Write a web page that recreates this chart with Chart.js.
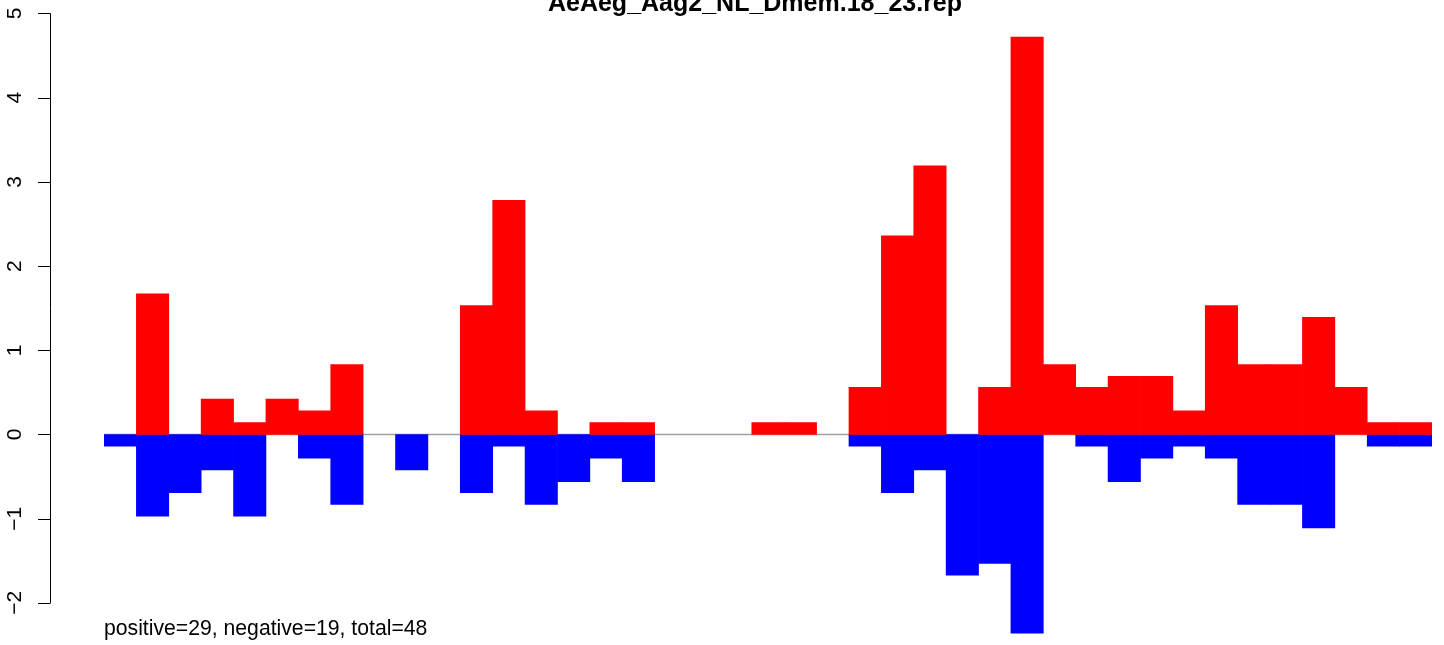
<!DOCTYPE html>
<html>
<head>
  <title>AeAeg_Aag2_NL_Dmem.18_23.rep</title>
  <script src="https://cdn.jsdelivr.net/npm/chart.js"></script>
  <style>
    html, body {
      margin: 0;
      padding: 0;
      background: #fff;
    }

    .wrap {
      width: 1444px;
      height: 645px;
    }
  </style>
</head>
<body>
  <div class="wrap"><canvas id="repChart"></canvas></div>

  <script>
    // values
    const chartTitle = 'AeAeg_Aag2_NL_Dmem.18_23.rep';
    const footerText = 'positive=29, negative=19, total=48';

    const positions = [];
    for (let i = 1; i <= 41; i++) positions.push(String(i));

    const positive = [0, 1.67, 0, 0.42, 0.14, 0.42, 0.28, 0.83, 0, 0,
                      0, 1.53, 2.78, 0.28, 0, 0.14, 0.14, 0, 0, 0,
                      0.14, 0.14, 0, 0.56, 2.36, 3.19, 0, 0.56, 4.72, 0.83,
                      0.56, 0.69, 0.69, 0.28, 1.53, 0.83, 0.83, 1.39, 0.56, 0.14,
                      0.14];

    const negative = [-0.14, -0.97, -0.69, -0.42, -0.97, 0, -0.28, -0.83, 0, -0.42,
                      0, -0.69, -0.14, -0.83, -0.56, -0.28, -0.56, 0, 0, 0,
                      0, 0, 0, -0.14, -0.69, -0.42, -1.67, -1.53, -2.36, 0,
                      -0.14, -0.56, -0.28, -0.14, -0.28, -0.83, -0.83, -1.11, 0, -0.14,
                      -0.14];

    const yTicks = [-2, -1, 0, 1, 2, 3, 4, 5];
    const yTickLabels = ['\u22122', '\u22121', '0', '1', '2', '3', '4', '5'];

    // empty bins shouldn't paint over the zero line
    const fillFor = color => c => (c.raw === 0 ? 'rgba(0,0,0,0)' : color);

    // R-style decorations: zero line, left axis, title, footer
    const rStyle = {
      id: 'rStyle',
      beforeDatasetsDraw(chart) {
        const ctx = chart.ctx;
        const area = chart.chartArea;
        const y0 = chart.scales.y.getPixelForValue(0);
        ctx.save();
        ctx.strokeStyle = '#a0a0a0';
        ctx.lineWidth = 1.5;
        ctx.beginPath();
        ctx.moveTo(area.left, y0);
        ctx.lineTo(area.right, y0);
        ctx.stroke();
        ctx.restore();
      },
      afterDraw(chart) {
        const ctx = chart.ctx;
        const ys = chart.scales.y;
        const axisX = 50.5;
        ctx.save();
        ctx.strokeStyle = '#000';
        ctx.lineWidth = 1;
        ctx.beginPath();
        ctx.moveTo(axisX, ys.getPixelForValue(yTicks[0]));
        ctx.lineTo(axisX, ys.getPixelForValue(yTicks[yTicks.length - 1]));
        yTicks.forEach(v => {
          const py = Math.round(ys.getPixelForValue(v)) + 0.5;
          ctx.moveTo(38, py);
          ctx.lineTo(axisX, py);
        });
        ctx.stroke();

        ctx.fillStyle = '#000';
        ctx.font = '21px "Liberation Sans", Arial, sans-serif';
        ctx.textAlign = 'center';
        ctx.textBaseline = 'alphabetic';
        yTicks.forEach((v, i) => {
          ctx.save();
          ctx.translate(21, ys.getPixelForValue(v));
          ctx.rotate(-Math.PI / 2);
          ctx.fillText(yTickLabels[i], 0, 0);
          ctx.restore();
        });

        ctx.font = 'bold 25px "Liberation Sans", Arial, sans-serif';
        ctx.fillText(chartTitle, 755, 11);

        ctx.font = '21.2px "Liberation Sans", Arial, sans-serif';
        ctx.textAlign = 'left';
        ctx.fillText(footerText, 104, 635);
        ctx.restore();
      }
    };

    new Chart(document.getElementById('repChart'), {
      type: 'bar',
      data: {
        labels: positions,
        datasets: [{
          label: 'positive',
          data: positive,
          backgroundColor: fillFor('#ff0000'),
          borderWidth: 0,
          categoryPercentage: 1,
          barPercentage: 1
        }, {
          label: 'negative',
          data: negative,
          backgroundColor: fillFor('#0000ff'),
          borderWidth: 0,
          categoryPercentage: 1,
          barPercentage: 1
        }]
      },
      options: {
        responsive: true,
        maintainAspectRatio: false,
        animation: false,
        layout: {
          padding: { left: 104, right: 12, top: 0, bottom: 0 }
        },
        plugins: {
          legend: { display: false },
          tooltip: { enabled: false }
        },
        scales: {
          x: {
            stacked: true,
            display: false
          },
          y: {
            stacked: true,
            display: false,
            min: -2.5,
            max: 5.16
          }
        }
      },
      plugins: [rStyle]
    });
  </script>
</body>
</html>
